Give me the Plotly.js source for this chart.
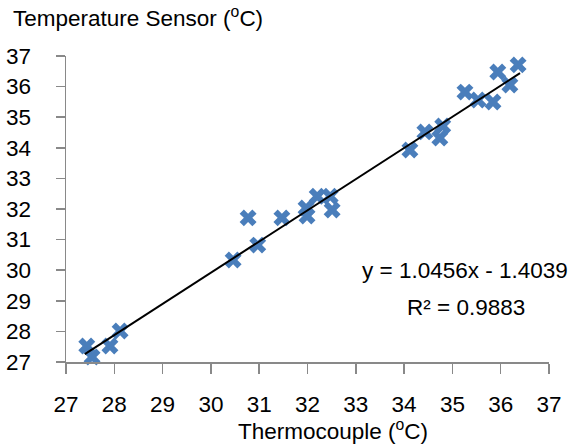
<!DOCTYPE html>
<html>
<head>
<meta charset="utf-8">
<script src="https://cdn.plot.ly/plotly-3.0.1.min.js"></script>
<style>html,body{margin:0;padding:0;background:#fff;}#chart{width:572px;height:445px;}</style>
</head>
<body>
<div id="chart"></div>
<script>
// Thermocouple readings (°C)
const thermocouple = [27.43, 27.54, 27.91, 28.12, 30.46, 30.97, 30.77, 31.47, 31.97, 31.99, 32.20, 32.47, 32.51,
  34.12, 34.43, 34.74, 34.80, 35.26, 35.53, 35.84, 35.94, 36.19, 36.36];
// Temperature sensor readings (°C)
const sensor = [27.52, 27.16, 27.52, 28.01, 30.33, 30.82, 31.71, 31.71, 32.03, 31.77, 32.42, 32.42, 31.97,
  33.93, 34.52, 34.32, 34.71, 35.82, 35.56, 35.50, 36.48, 36.05, 36.71];
// Trendline as drawn (endpoints)
const trendX = [27.39, 36.40];
const trendY = [27.26, 36.44];
const tickVals = [27, 28, 29, 30, 31, 32, 33, 34, 35, 36, 37];
const eqText = 'y = 1.0456x - 1.4039';
const r2Text = 'R² = 0.9883';

const font = 'Arial, "Liberation Sans", sans-serif';
const axisColor = '#898989';
const fs = 22.5;

const data = [
  {x: thermocouple, y: sensor, type: 'scatter', mode: 'markers', cliponaxis: false,
   marker: {symbol: 'x', size: 15, color: '#4A7EBB', line: {width: 0}}, hoverinfo: 'skip'},
  {x: trendX, y: trendY, type: 'scatter', mode: 'lines', cliponaxis: false,
   line: {color: '#000000', width: 2}, hoverinfo: 'skip'}
];

const layout = {
  width: 572, height: 445,
  margin: {l: 66, r: 23, t: 56, b: 83},
  paper_bgcolor: '#ffffff', plot_bgcolor: '#ffffff',
  showlegend: false,
  font: {family: font, size: fs, color: '#000'},
  xaxis: {range: [27, 37], tickvals: tickVals, ticktext: tickVals.map(String),
    showgrid: false, zeroline: false, showline: true, linecolor: axisColor, linewidth: 1.5,
    ticks: 'outside', ticklen: 10, tickcolor: axisColor, tickwidth: 1.5,
    ticklabelstandoff: 11, tickfont: {family: font, size: fs, color: '#000'}},
  yaxis: {range: [27, 37], tickvals: tickVals, ticktext: tickVals.map(String),
    showgrid: false, zeroline: false, showline: true, linecolor: axisColor, linewidth: 1.5,
    ticks: 'outside', ticklen: 9, tickcolor: axisColor, tickwidth: 1.5,
    ticklabelstandoff: 20, tickfont: {family: font, size: fs, color: '#000'}},
  annotations: [
    {text: 'Temperature Sensor (<sup>o</sup>C)', xref: 'paper', yref: 'paper', x: -66/483 + 11/483, y: 1 + (56-17)/306,
     xanchor: 'left', yanchor: 'middle', showarrow: false, font: {family: font, size: fs, color: '#000'}},
    {text: 'Thermocouple (<sup>o</sup>C)', xref: 'paper', yref: 'paper', x: (333-66)/483, y: -(430-362)/306,
     xanchor: 'center', yanchor: 'middle', showarrow: false, font: {family: font, size: fs, color: '#000'}},
    {text: eqText, xref: 'paper', yref: 'paper', x: (465-66)/483, y: (362-270)/306,
     xanchor: 'center', yanchor: 'middle', showarrow: false, font: {family: font, size: fs, color: '#000'}},
    {text: r2Text, xref: 'paper', yref: 'paper', x: (466-66)/483, y: (362-307)/306,
     xanchor: 'center', yanchor: 'middle', showarrow: false, font: {family: font, size: fs, color: '#000'}}
  ]
};

Plotly.newPlot('chart', data, layout, {displayModeBar: false, staticPlot: true});
</script>
</body>
</html>
